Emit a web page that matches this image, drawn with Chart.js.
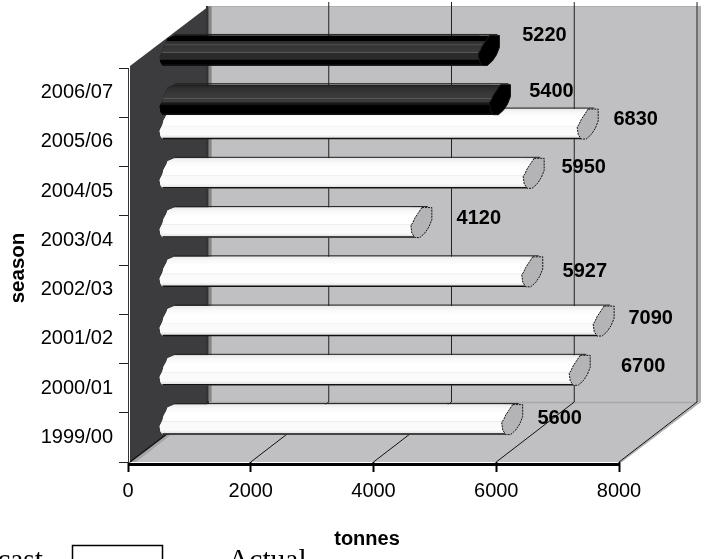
<!DOCTYPE html>
<html>
<head>
<meta charset="utf-8">
<style>
  html, body { margin: 0; padding: 0; background: #fff; }
  #wrap { width: 708px; height: 559px; overflow: hidden; }
</style>
<script src="https://cdn.jsdelivr.net/npm/chart.js@4"></script>
</head>
<body>
<div id="wrap"><canvas id="chart" width="708" height="559"></canvas></div>
<script>
// Landings per season, newest season first so it sits at the top of the axis.
const seasons = ['2006/07', '2005/06', '2004/05', '2003/04', '2002/03', '2001/02', '2000/01', '1999/00'];
const forecast = [5220, 5400, null, null, null, null, null, null];
const actual = [null, 6830, 5950, 4120, 5927, 7090, 6700, 5600];
const xTicks = [0, 2000, 4000, 6000, 8000];

// Placement of the value captions relative to the end of each bar and its season band.
const forecastCaptionDx = [96, 92];
const forecastCaptionDy = [-57.6, -50.4];
const actualCaptionDx = [0, 88.5, 90.5, 98, 93, 87.5, 104, 88];
const actualCaptionDy = [0, -22.4, -24, -21.4, -18.6, -19.9, -21.6, -18.4];

// Oblique projection used for the walls and for the bars standing inside the box.
const WALL_DX = 79, FLOOR_DY = -60, ROOF_DY = -62;
const BAR_DX = 31, BAR_DY = -30;
const WALL_INSET = 2;

const SANS = '"Liberation Sans", Arial, sans-serif';
const SERIF = '"Liberation Serif", "Times New Roman", serif';

// Outline of the tube end seen from the front: [x offset, fraction of the bar height].
const TAIL_PROFILE = [[15, 0], [8, .1], [7, .2], [4, .38], [3, .52], [0, .72], [1, .9], [3, 1]];
const HEAD_NEAR = [[10, 0], [6, .2], [3, .35], [1, .5], [-1, .6], [0, .85], [3, 1]];
const HEAD_FAR = [[8, 1], [13, .85], [17, .65], [20, .4], [20, 0]];

const WHITE_SHADE = [[0, '#ececec'], [.12, '#f8f8f8'], [.3, '#ffffff'], [.55, '#ffffff'], [.56, '#ececec'],
  [.6, '#fafafa'], [.85, '#fbfbfb'], [.95, '#e4e4e4'], [1, '#d8d8d8']];
const DARK_SHADES = [
  [[0, '#000'], [.17, '#000'], [.18, '#2a2a2a'], [.3, '#3a3a3c'], [.31, '#777'], [.34, '#333'], [.56, '#3c3c3e'],
    [.58, '#777'], [.6, '#2a2a2a'], [.8, '#2a2a2a'], [.81, '#000'], [1, '#000']],
  [[0, '#111'], [.05, '#2a2a2a'], [.3, '#383838'], [.44, '#3c3c3e'], [.45, '#666'], [.48, '#3a3a3a'], [.58, '#3a3a3a'],
    [.6, '#1c1c1c'], [.68, '#111'], [.7, '#000'], [1, '#000']]
];

function polygon(ctx, pts) {
  ctx.beginPath();
  pts.forEach((p, i) => (i ? ctx.lineTo(p[0], p[1]) : ctx.moveTo(p[0], p[1])));
  ctx.closePath();
}

function fillPoly(ctx, pts, color) {
  polygon(ctx, pts);
  ctx.fillStyle = color;
  ctx.fill();
}

function line(ctx, x1, y1, x2, y2, color, width) {
  ctx.beginPath();
  ctx.moveTo(x1, y1);
  ctx.lineTo(x2, y2);
  ctx.strokeStyle = color;
  ctx.lineWidth = width;
  ctx.stroke();
}

// Back wall, side wall, floor and their grid lines, all derived from the axes.
const boxPlugin = {
  id: 'box',
  beforeDraw(chart) {
    const { ctx, chartArea: a, scales } = chart;
    const x0 = a.left + WALL_INSET, x1 = a.right, top = a.top, bot = a.bottom;
    const backLeft = a.left + WALL_DX + WALL_INSET, backRight = x1 + WALL_DX;
    const backTop = top + ROOF_DY, backBot = bot + FLOOR_DY;
    ctx.save();
    fillPoly(ctx, [[backLeft, backTop], [backRight + 3, backTop], [backRight + 3, backBot], [backLeft, backBot]], '#b0b0b2');
    fillPoly(ctx, [[backLeft + 3, backTop + 1], [backRight, backTop + 1], [backRight, backBot], [backLeft + 3, backBot]], '#c0c0c2');
    fillPoly(ctx, [[x1, bot], [x1 + 3, bot], [backRight + 3, backBot], [backRight, backBot]], '#adadaf');
    fillPoly(ctx, [[x0, bot], [x1, bot], [backRight, backBot], [backLeft, backBot]], '#c0c0c2');
    fillPoly(ctx, [[x0, bot], [x0 + 6, bot], [backLeft + 4, backBot], [backLeft, backBot]], '#a4a4a6');
    fillPoly(ctx, [[x0, top - 2], [backLeft, backTop], [backLeft, backBot], [x0, bot]], '#3c3c3e');
    line(ctx, backLeft - 2, backTop, backLeft - 2, backBot, '#333', 2);
    line(ctx, backLeft + 1, backTop, backLeft + 1, backBot, '#858585', 3);
    line(ctx, x0, bot, backLeft, backBot, '#111', 1.5);
    line(ctx, backLeft, backBot + .5, backRight, backBot + .5, '#a8a8aa', 1.5);

    xTicks.forEach((v) => {
      const x = scales.x.getPixelForValue(v);
      if (v > 0) {
        line(ctx, x + WALL_DX - 1, 2, x + WALL_DX - 1, backBot, '#222', 1);
        line(ctx, x, bot, x + WALL_DX - 1, backBot, '#111', 1);
      }
    });
    // The value axis is a heavy rule just under the floor.
    line(ctx, a.left, bot + 2.5, x1 + 1, bot + 2.5, '#000', 3);
    ctx.restore();
  }
};

function tubeGeometry(chart, index) {
  const meta = chart.getDatasetMeta(index);
  const values = chart.data.datasets[index].data;
  const tubes = [];
  meta.data.forEach((el, i) => {
    if (values[i] === null) return;
    const { x, y, height, base } = el.getProps(['x', 'y', 'height', 'base'], true);
    const t = y - height / 2, b = t + height;
    tubes.push({
      x, t, b, base,
      tail: TAIL_PROFILE.map((p) => [base + p[0], t + p[1] * height]),
      near: HEAD_NEAR.map((p) => [x + p[0], t + p[1] * height]),
      far: HEAD_FAR.map((p) => [x + p[0], t + p[1] * height])
    });
  });
  return tubes;
}

// Shifts each dataset into the box and trims its rectangles into tubes with a capped end.
const tubePlugin = {
  id: 'tubes',
  beforeDatasetDraw(chart, args) {
    const ctx = chart.ctx;
    ctx.save();
    ctx.translate(BAR_DX, BAR_DY);
    ctx.save();
    ctx.beginPath();
    tubeGeometry(chart, args.index).forEach((tube) => {
      tube.tail.concat(tube.near.slice().reverse()).forEach((p, i) =>
        (i ? ctx.lineTo(p[0], p[1]) : ctx.moveTo(p[0], p[1])));
      ctx.closePath();
    });
    ctx.clip();
  },
  afterDatasetDraw(chart, args) {
    const ctx = chart.ctx;
    ctx.restore();
    const isDark = args.index === 0;
    tubeGeometry(chart, args.index).forEach((tube, row) => {
      const { x, t, b, base, tail, near, far } = tube;
      const g = ctx.createLinearGradient(0, t, 0, b);
      (isDark ? DARK_SHADES[row] : WHITE_SHADE).forEach((s) => g.addColorStop(s[0], s[1]));
      polygon(ctx, tail.concat(near.slice().reverse()));
      ctx.fillStyle = g;
      ctx.fill();

      // Edge lines along the top and bottom of the tube.
      line(ctx, base + 15, t - 1, x + (isDark ? 18 : 16), t - 1, '#222', 1);
      line(ctx, base + 3, b - .5, x + 3, b - .5, '#111', 1.5);

      // End cap.
      polygon(ctx, near.concat(far));
      ctx.fillStyle = isDark ? '#000' : '#b4b4b6';
      ctx.fill();
      ctx.save();
      ctx.setLineDash(isDark ? [] : [2, 1]);
      ctx.strokeStyle = '#111';
      ctx.lineWidth = 1;
      ctx.stroke();
      ctx.restore();
    });
    ctx.restore();
  }
};

// Value captions, axis names and the legend row along the bottom edge.
const textPlugin = {
  id: 'texts',
  afterDraw(chart) {
    const { ctx, scales } = chart;
    ctx.save();
    ctx.fillStyle = '#000';
    ctx.textAlign = 'center';
    ctx.textBaseline = 'middle';
    ctx.font = 'bold 20px ' + SANS;
    const bandY = (i) => scales.y.getPixelForValue(i);
    forecast.forEach((v, i) => {
      if (v === null) return;
      ctx.fillText(String(v), scales.x.getPixelForValue(v) + forecastCaptionDx[i], bandY(i) + forecastCaptionDy[i]);
    });
    actual.forEach((v, i) => {
      if (v === null) return;
      ctx.fillText(String(v), scales.x.getPixelForValue(v) + actualCaptionDx[i], bandY(i) + actualCaptionDy[i]);
    });

    ctx.fillText('tonnes', 367, 539);
    ctx.save();
    ctx.translate(18, 268);
    ctx.rotate(-Math.PI / 2);
    ctx.font = 'bold 20.5px ' + SANS;
    ctx.fillText('season', 0, 0);
    ctx.restore();

    ctx.font = '29.5px ' + SERIF;
    ctx.textBaseline = 'alphabetic';
    ctx.textAlign = 'right';
    ctx.fillText(chart.data.datasets[0].label, 43, 569);
    ctx.textAlign = 'left';
    ctx.fillText(chart.data.datasets[1].label, 228, 569);
    ctx.fillStyle = '#fff';
    ctx.strokeStyle = '#000';
    ctx.lineWidth = 1.5;
    ctx.fillRect(72.5, 545.5, 90, 30);
    ctx.strokeRect(72.5, 545.5, 90, 30);
    ctx.restore();
  }
};

new Chart(document.getElementById('chart'), {
  type: 'bar',
  data: {
    labels: seasons,
    datasets: [
      { label: 'Forecast', data: forecast, backgroundColor: '#000', clip: false },
      { label: 'Actual', data: actual, backgroundColor: '#fff', clip: false }
    ]
  },
  options: {
    indexAxis: 'y',
    responsive: false,
    animation: false,
    datasets: { bar: { categoryPercentage: 0.99, barPercentage: 1.23 } },
    layout: { padding: { top: 68, right: 89, left: 0, bottom: 0 } },
    plugins: { legend: { display: false }, tooltip: { enabled: false } },
    scales: {
      x: {
        type: 'linear',
        min: 0,
        max: 8000,
        afterFit(scale) { scale.height = 97; },
        afterBuildTicks(scale) { scale.ticks = xTicks.map((value) => ({ value })); },
        border: { display: false },
        grid: { drawOnChartArea: false, tickLength: 10, tickWidth: 2, tickColor: '#000' },
        ticks: { color: '#000', padding: 7, maxRotation: 0, font: { family: SANS, size: 20 }, callback: (value) => String(value) }
      },
      y: {
        afterFit(scale) { scale.width = 128; },
        border: { display: true, color: '#333', width: 1 },
        grid: { drawOnChartArea: false, tickLength: 9, tickColor: '#222' },
        ticks: { color: '#000', padding: 6, font: { family: SANS, size: 20 } }
      }
    }
  },
  plugins: [boxPlugin, tubePlugin, textPlugin]
});
</script>
</body>
</html>
